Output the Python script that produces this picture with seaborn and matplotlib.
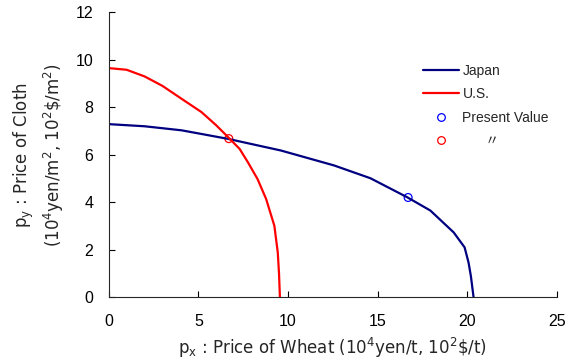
import matplotlib
matplotlib.use("Agg")
import matplotlib.pyplot as plt
from matplotlib.lines import Line2D
import seaborn as sns
import pandas as pd

# Price possibility frontiers (wheat price px vs cloth price py)
japan_px = [0.0, 2.0, 4.06, 5.0, 6.65, 9.6, 12.57, 14.6, 16.65, 17.94, 19.24, 19.85, 20.07, 20.2, 20.35]
japan_py = [7.29, 7.2, 7.03, 6.9, 6.67, 6.18, 5.55, 5.01, 4.21, 3.65, 2.73, 2.1, 1.46, 0.89, 0.0]

us_px = [0.0, 1.0, 2.0, 3.0, 4.06, 5.17, 6.0, 6.65, 7.3, 7.76, 8.3, 8.78, 9.24, 9.43, 9.5, 9.55]
us_py = [9.65, 9.58, 9.3, 8.9, 8.36, 7.8, 7.24, 6.75, 6.25, 5.69, 4.98, 4.14, 3.01, 1.89, 1.0, 0.0]

# Current observed prices
present_px = [16.7, 6.7]
present_py = [4.2, 6.68]
present_country = ["Japan", "U.S."]

sns.set_style("ticks")
plt.rcParams["font.family"] = ["Liberation Sans", "Noto Sans CJK JP"]
plt.rcParams["mathtext.fontset"] = "custom"
plt.rcParams["mathtext.rm"] = "DejaVu Sans"
plt.rcParams["mathtext.it"] = "DejaVu Sans"

fig = plt.figure(figsize=(5.66, 3.62), dpi=100)
ax = fig.add_axes([0.192, 0.179, 0.792, 0.787])

japan = pd.DataFrame({"px": japan_px, "py": japan_py})
us = pd.DataFrame({"px": us_px, "py": us_py})
present = pd.DataFrame({"px": present_px, "py": present_py, "country": present_country})
colors = {"Japan": "#0000ff", "U.S.": "#ff0000"}

sns.lineplot(data=japan, x="px", y="py", sort=False, color="#000080", lw=1.6, ax=ax)
sns.lineplot(data=us, x="px", y="py", sort=False, color="#ff0000", lw=1.6, ax=ax)
sns.scatterplot(data=present, x="px", y="py", hue="country", palette=colors,
                marker="o", s=32, linewidth=0.9, legend=False, ax=ax)
for c in ax.collections:
    c.set_facecolor("none")
    c.set_edgecolor([colors[k] for k in present_country])

ax.set_xlim(0, 25)
ax.set_ylim(0, 12)
ax.set_xticks(range(0, 26, 5))
ax.set_yticks(range(0, 13, 2))
ax.tick_params(direction="in", length=4, width=0.8, labelsize=11.5, colors="black")
ax.tick_params(axis="x", pad=12)
ax.tick_params(axis="y", pad=11)
sns.despine(ax=ax)
for s in ("left", "bottom"):
    ax.spines[s].set_linewidth(0.8)

label_font = {"family": ["DejaVu Sans", "Noto Sans CJK JP"], "size": 12}
ax.set_xlabel(r"p$_{\mathrm{x}}$ : Price of Wheat (10$^{4}$yen/t, 10$^{2}$\$/t)",
              fontdict=label_font, labelpad=5)
ax.set_ylabel("p$_{\\mathrm{y}}$ : Price of Cloth\n(10$^{4}$yen/m$^{2}$, 10$^{2}$\\$/m$^{2}$)",
              fontdict=label_font, labelpad=7, linespacing=1.3)

handles = [
    Line2D([], [], color="#000080", lw=1.6),
    Line2D([], [], color="#ff0000", lw=1.6),
    Line2D([], [], ls="none", marker="o", mfc="none", mec="#0000ff", ms=5.5, mew=0.9),
    Line2D([], [], ls="none", marker="o", mfc="none", mec="#ff0000", ms=5.5, mew=0.9),
]
labels = ["Japan", "U.S.", "Present Value", "      \u3003"]
fig.legend(handles, labels, loc="upper left", bbox_to_anchor=(0.725, 0.858),
           frameon=False, fontsize=10, handlelength=2.6, handletextpad=0.25,
           labelspacing=0.68)

fig.savefig("out.png", dpi=100)
